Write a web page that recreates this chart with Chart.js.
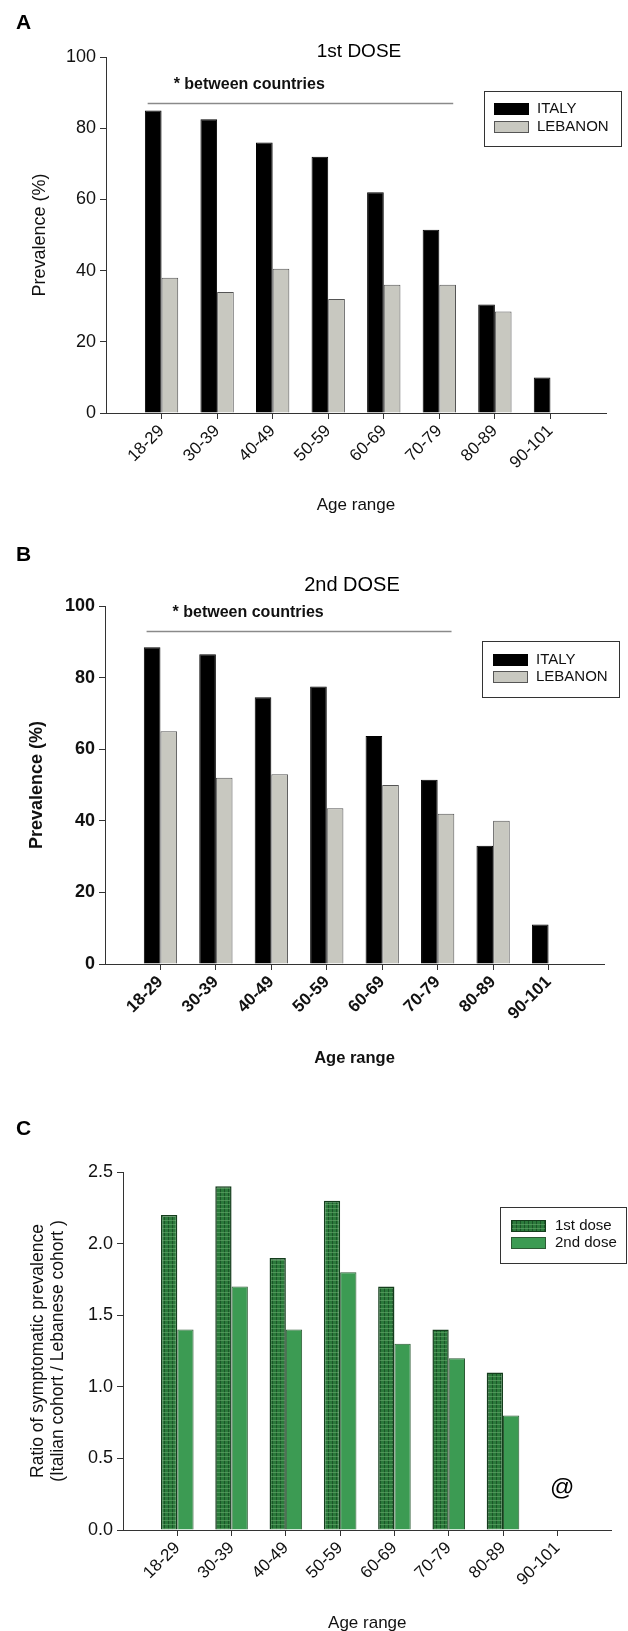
<!DOCTYPE html>
<html>
<head>
<meta charset="utf-8">
<script src="https://cdn.jsdelivr.net/npm/chart.js@4.4.1/dist/chart.umd.min.js"></script>
<style>
  html, body { margin: 0; padding: 0; background: #fff; }
  body { width: 628px; height: 1631px; position: relative; overflow: hidden; }
  canvas { position: absolute; left: 0; }
</style>
</head>
<body>
<canvas id="chartA" width="628" height="530" style="top:0"></canvas>
<canvas id="chartB" width="628" height="560" style="top:530px"></canvas>
<canvas id="chartC" width="628" height="541" style="top:1090px"></canvas>
<script>
const ageRanges = ['18-29', '30-39', '40-49', '50-59', '60-69', '70-79', '80-89', '90-101'];

// panel A - 1st dose prevalence (%)
const italyDose1 = [85, 82.5, 76, 72, 62, 51.5, 30.5, 10];
const lebanonDose1 = [38, 34, 40.5, 32, 36, 36, 28.5, null];

// panel B - 2nd dose prevalence (%)
const italyDose2 = [88.5, 86.5, 74.5, 77.5, 63.7, 51.5, 33, 11];
const lebanonDose2 = [65, 52, 53, 43.5, 50, 42, 40, null];

// panel C - ratio Italy / Lebanon
const ratioDose1 = [2.2, 2.4, 1.9, 2.3, 1.7, 1.4, 1.1, null];
const ratioDose2 = [1.4, 1.7, 1.4, 1.8, 1.3, 1.2, 0.8, null];

const sigFrom = '18-29', sigTo = '70-79';
const sigLevel1 = 87, sigLevel2 = 93;
const sigText = '* between countries';
const noRatioLabel = '90-101', noRatioLevel = 0.29, noRatioMark = '@';

// one empty slot each side so the axis runs a full category past the bars
const labels = ['', ...ageRanges, ''];
const pad = arr => [null, ...arr, null];

const FONT = '"Liberation Sans", Arial, sans-serif';
const AXIS = '#333';

function plaid() {
    const c = document.createElement('canvas');
    c.width = 4; c.height = 4;
    const g = c.getContext('2d');
    g.fillStyle = '#2b7a3b'; g.fillRect(0, 0, 4, 4);
    g.fillStyle = '#1b5528'; g.fillRect(0, 0, 1, 4);
    g.fillStyle = 'rgba(110,175,115,0.55)'; g.fillRect(0, 2, 4, 1);
    return g.createPattern(c, 'repeat');
}

const panelDecor = {
    id: 'panelDecor',
    afterDraw(chart, args, o) {
        const { ctx, scales: { x, y } } = chart;
        ctx.save();
        ctx.fillStyle = '#000';
        ctx.textBaseline = 'middle';

        ctx.textAlign = 'left';
        ctx.font = 'bold 21px ' + FONT;
        ctx.fillText(o.letter, 16, o.letterY);

        if (o.title) {
            ctx.textAlign = 'center';
            ctx.font = o.titleFont;
            ctx.fillText(o.title, o.titleX, o.titleY);
        }

        if (o.sig) {
            const step = x.getPixelForValue(1) - x.getPixelForValue(0);
            const x0 = x.getPixelForValue(labels.indexOf(o.sig.from)) - step * 0.25;
            const x1 = x.getPixelForValue(labels.indexOf(o.sig.to)) + step * 0.25;
            const yy = Math.round(y.getPixelForValue(o.sig.level)) + 0.5;
            ctx.strokeStyle = '#8a8a8a';
            ctx.lineWidth = 1.3;
            ctx.beginPath(); ctx.moveTo(x0, yy); ctx.lineTo(x1, yy); ctx.stroke();
            ctx.textAlign = 'left';
            ctx.font = 'bold 16px ' + FONT;
            ctx.fillStyle = '#111';
            ctx.fillText(o.sig.text, x0 + 26, yy - 19);
        }

        if (o.mark) {
            ctx.textAlign = 'center';
            ctx.font = '24px ' + FONT;
            ctx.fillStyle = '#000';
            ctx.fillText(o.mark.text, x.getPixelForValue(labels.indexOf(o.mark.label)) + 5, y.getPixelForValue(o.mark.level));
        }

        // boxed legend inside the plot
        const L = o.legend;
        ctx.strokeStyle = '#333';
        ctx.lineWidth = 1;
        ctx.strokeRect(L.x + 0.5, L.y + 0.5, L.w, L.h);
        ctx.font = L.font;
        ctx.textAlign = 'left';
        chart.data.datasets.forEach((ds, i) => {
            const cy = L.rowY + i * L.rowGap;
            ctx.fillStyle = ds.backgroundColor;
            ctx.fillRect(L.swX, cy - 6, 35, 12);
            ctx.strokeStyle = ds.borderColor;
            ctx.lineWidth = 1;
            ctx.strokeRect(L.swX + 0.5, cy - 5.5, 34, 11);
            ctx.fillStyle = '#111';
            ctx.fillText(ds.label, L.textX, cy);
        });
        ctx.restore();
    }
};

function makeChart(id, cfg) {
    return new Chart(document.getElementById(id), {
        type: 'bar',
        data: { labels: labels, datasets: cfg.datasets },
        plugins: [panelDecor],
        options: {
            responsive: false,
            animation: false,
            layout: { padding: { left: 0, top: cfg.top, right: cfg.right, bottom: 0 } },
            datasets: { bar: { categoryPercentage: 0.6, barPercentage: 1.0 } },
            scales: {
                x: {
                    offset: false,
                    afterFit: s => { s.height = cfg.xHeight; },
                    grid: {
                        offset: false, drawOnChartArea: false, drawTicks: true, tickLength: 6,
                        color: c => labels[c.index] === '' ? 'rgba(0,0,0,0)' : AXIS
                    },
                    border: { display: true, color: AXIS, width: 1 },
                    ticks: {
                        autoSkip: false, maxRotation: 45, minRotation: 45, padding: 2,
                        color: '#111', font: { family: FONT, size: 17, weight: cfg.bold ? 'bold' : 'normal' }
                    },
                    title: {
                        display: true, text: 'Age range', color: '#111',
                        font: { family: FONT, size: cfg.xTitleSize, weight: cfg.bold ? 'bold' : 'normal', lineHeight: cfg.xTitleLH },
                        padding: { top: 0, bottom: cfg.xTitlePad }
                    }
                },
                y: {
                    min: cfg.yMin, max: cfg.yMax,
                    afterFit: s => { s.width = cfg.left; },
                    grid: { drawOnChartArea: false, drawTicks: true, tickLength: 6, color: AXIS },
                    border: { display: true, color: AXIS, width: 1 },
                    ticks: {
                        stepSize: cfg.step, padding: 4, color: '#111',
                        font: { family: FONT, size: 18, weight: cfg.bold ? 'bold' : 'normal' },
                        callback: cfg.tickFmt
                    },
                    title: {
                        display: true, text: cfg.yTitle, color: '#111',
                        font: { family: FONT, size: cfg.yTitleSize, weight: cfg.bold ? 'bold' : 'normal', lineHeight: cfg.yTitleLH },
                        padding: { top: cfg.yTitlePad, bottom: 0 }
                    }
                }
            },
            plugins: {
                legend: { display: false },
                tooltip: { enabled: false },
                panelDecor: cfg.decor
            }
        }
    });
}

makeChart('chartA', {
    datasets: [
        { label: 'ITALY', data: pad(italyDose1), backgroundColor: '#000', borderColor: '#000', borderWidth: 1 },
        { label: 'LEBANON', data: pad(lebanonDose1), backgroundColor: '#c8c8c0', borderColor: '#555', borderWidth: 1 }
    ],
    top: 57, right: 22, left: 106, xHeight: 117,
    yMin: 0, yMax: 100, step: 20,
    yTitle: 'Prevalence (%)', yTitleSize: 18, yTitleLH: 1.2, yTitlePad: 29,
    xTitleSize: 17, xTitleLH: 1.2, xTitlePad: 14,
    decor: {
        letter: 'A', letterY: 23,
        title: '1st DOSE', titleFont: '19px ' + FONT, titleX: 359, titleY: 52,
        sig: { from: sigFrom, to: sigTo, level: sigLevel1, text: sigText },
        legend: { x: 484, y: 91, w: 137, h: 55, rowY: 109, rowGap: 18, swX: 494, textX: 537, font: '15px ' + FONT }
    }
});

makeChart('chartB', {
    bold: true,
    datasets: [
        { label: 'ITALY', data: pad(italyDose2), backgroundColor: '#000', borderColor: '#000', borderWidth: 1 },
        { label: 'LEBANON', data: pad(lebanonDose2), backgroundColor: '#c8c8c0', borderColor: '#555', borderWidth: 1 }
    ],
    top: 76, right: 24, left: 105, xHeight: 126,
    yMin: 0, yMax: 100, step: 20,
    yTitle: 'Prevalence (%)', yTitleSize: 18, yTitleLH: 1.2, yTitlePad: 26,
    xTitleSize: 16.5, xTitleLH: 1.2, xTitlePad: 22,
    decor: {
        letter: 'B', letterY: 25,
        title: '2nd DOSE', titleFont: '20px ' + FONT, titleX: 352, titleY: 55,
        sig: { from: sigFrom, to: sigTo, level: sigLevel2, text: sigText },
        legend: { x: 482, y: 111, w: 137, h: 56, rowY: 130, rowGap: 17, swX: 493, textX: 536, font: '15px ' + FONT }
    }
});

makeChart('chartC', {
    datasets: [
        { label: '1st dose', data: pad(ratioDose1), backgroundColor: plaid(), borderColor: '#143d1c', borderWidth: 1.5 },
        { label: '2nd dose', data: pad(ratioDose2), backgroundColor: '#3c9b53', borderColor: '#2c5a34', borderWidth: 1 }
    ],
    top: 82, right: 5, left: 123, xHeight: 101,
    yMin: 0, yMax: 2.5, step: 0.5, tickFmt: v => v.toFixed(1),
    yTitle: ['Ratio of symptomatic prevalence', '(Italian cohort / Lebanese cohort )'],
    yTitleSize: 17.5, yTitleLH: '20px', yTitlePad: 28,
    xTitleSize: 17, xTitleLH: '16px', xTitlePad: 0,
    decor: {
        letter: 'C', letterY: 39,
        mark: { label: noRatioLabel, level: noRatioLevel, text: noRatioMark },
        legend: { x: 500, y: 117, w: 126, h: 56, rowY: 136, rowGap: 17, swX: 511, textX: 555, font: '15px ' + FONT }
    }
});
</script>
</body>
</html>
